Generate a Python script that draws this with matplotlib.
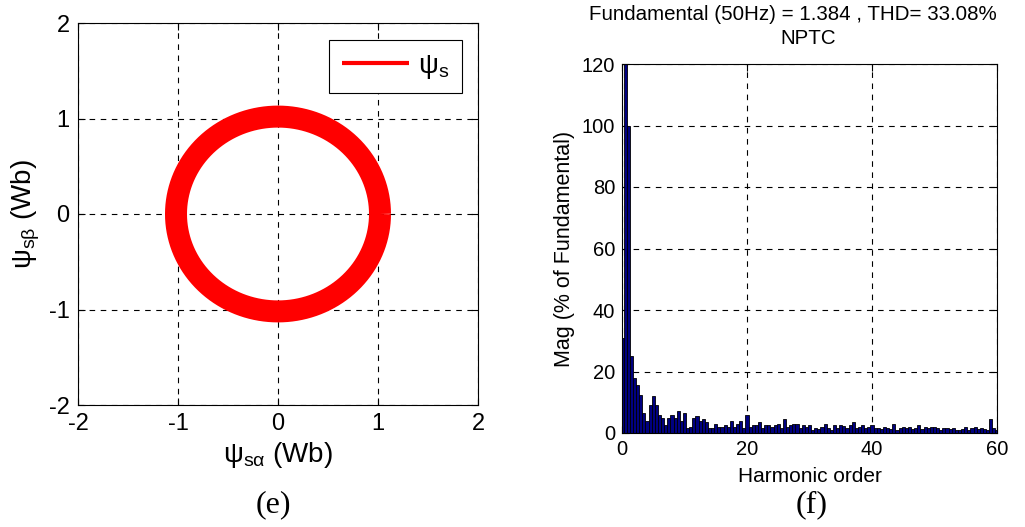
import numpy as np
import matplotlib
matplotlib.use("Agg")
import matplotlib.pyplot as plt

plt.rcParams['font.family'] = ['Liberation Sans', 'DejaVu Sans']
plt.rcParams['mathtext.fontset'] = 'custom'
plt.rcParams['mathtext.rm'] = 'Liberation Sans'
plt.rcParams['mathtext.it'] = 'Liberation Sans'
plt.rcParams['mathtext.bf'] = 'Liberation Sans:bold'
plt.rcParams['axes.unicode_minus'] = False

# Stator flux locus: mean radius and band width (Wb)
flux_radius = 1.02
flux_band = 0.22
locus_ticks = [-2, -1, 0, 1, 2]

# Harmonic spectrum (NPTC), 0..60 in steps of 0.5
harmonic_step = 0.5
harmonic_mag = [
    31, 150, 100, 25, 18, 15.5, 12.5, 6.5, 4, 9,
    12, 9, 6, 5, 2.5, 5, 6, 5, 7, 4,
    6.5, 1.5, 2, 5, 5.5, 4, 4.5, 3.5, 1.5, 1.5,
    3, 2, 2, 2.5, 2, 4, 2, 3, 4, 1.5,
    6, 2, 2.5, 2.5, 3.5, 1.5, 2.5, 2.5, 2, 2.5,
    3, 1.5, 4.5, 2, 2.5, 3, 3, 1.5, 2.5, 2,
    2.5, 1, 1.5, 1.2, 2, 3, 1.5, 1, 2.5, 1.5,
    2.5, 2.2, 1.5, 2.5, 3.5, 1.5, 2, 2.5, 1.5, 2,
    2.5, 1.5, 1.5, 1.2, 2, 1.5, 1.2, 3, 1, 1.5,
    2, 1.5, 2, 1.2, 1.5, 2.5, 1.2, 2, 1.5, 2,
    2, 1.5, 1, 1.5, 1.5, 1.2, 1.5, 1, 1, 1.2,
    1.8, 1, 1.5, 1.8, 1.2, 1.5, 1.2, 1, 4.5, 1.5,
    1,
]
harmonic_order = np.arange(len(harmonic_mag)) * harmonic_step
spectrum_xticks = [0, 20, 40, 60]
spectrum_yticks = [0, 20, 40, 60, 80, 100, 120]
spectrum_title = ["Fundamental (50Hz) = 1.384 , THD= 33.08%", "NPTC"]

fig = plt.figure(figsize=(10.25, 5.27), dpi=100)
W, H = 1025, 527

# ---- (e) flux locus ----
ax1 = fig.add_axes([78 / W, 1 - 405 / H, 400 / W, 382 / H])
theta = np.linspace(0, 2 * np.pi, 721)
lw_pts = flux_band * (400 / 4) * 72 / 100
ax1.plot(flux_radius * np.cos(theta), flux_radius * np.sin(theta),
         color='#ff0000', lw=lw_pts, solid_capstyle='butt',
         label=r'$\mathregular{\psi_{s}}$')
ax1.set_xlim(-2, 2)
ax1.set_ylim(-2, 2)
ax1.set_xticks(locus_ticks)
ax1.set_yticks(locus_ticks)
ax1.grid(True, color='black', linestyle=(0, (5, 5)), linewidth=0.8)
ax1.tick_params(direction='in', top=True, right=True, labelsize=17, length=5,
                pad=6)
ax1.set_xlabel(r'$\mathregular{\psi_{s\alpha}}$ (Wb)', fontsize=20, labelpad=3)
ax1.set_ylabel(r'$\mathregular{\psi_{s\beta}}$ (Wb)', fontsize=20, labelpad=5)
leg = ax1.legend(loc='upper right', fontsize=20, handlelength=2.4,
                 handletextpad=0.35, fancybox=False, framealpha=1,
                 edgecolor='black', borderpad=0.45, borderaxespad=0,
                 bbox_to_anchor=(0.96, 0.955))
leg.get_frame().set_linewidth(0.8)
for h in leg.get_lines():
    h.set_linewidth(3)
for s in ax1.spines.values():
    s.set_linewidth(0.8)
fig.text(273 / W, 1 - 505 / H, '(e)', family='Liberation Serif',
         fontsize=23, ha='center', va='center')

# ---- (f) harmonic spectrum ----
ax2 = fig.add_axes([622 / W, 1 - 433 / H, 375 / W, 369 / H])
ax2.bar(harmonic_order, harmonic_mag, width=harmonic_step,
        color='#000080', edgecolor='black', linewidth=0.6, zorder=2)
ax2.set_xlim(0, 60)
ax2.set_ylim(0, 120)
ax2.set_xticks(spectrum_xticks)
ax2.set_yticks(spectrum_yticks)
ax2.grid(True, color='black', linestyle=(0, (5, 5)), linewidth=0.8, zorder=1)
ax2.set_axisbelow(True)
ax2.tick_params(direction='in', top=True, right=True, labelsize=14.5, length=5,
                pad=5)
ax2.set_xlabel('Harmonic order', fontsize=15, labelpad=6)
ax2.set_ylabel('Mag (% of Fundamental)', fontsize=15.5, labelpad=5)
for s in ax2.spines.values():
    s.set_linewidth(0.8)
fig.text(793 / W, 1 - 14 / H, spectrum_title[0], fontsize=14.8,
         ha='center', va='center')
fig.text(808 / W, 1 - 38 / H, spectrum_title[1], fontsize=14.8,
         ha='center', va='center')
fig.text(812 / W, 1 - 505 / H, '(f)', family='Liberation Serif',
         fontsize=23, ha='center', va='center')

fig.savefig('out.png', dpi=100)
